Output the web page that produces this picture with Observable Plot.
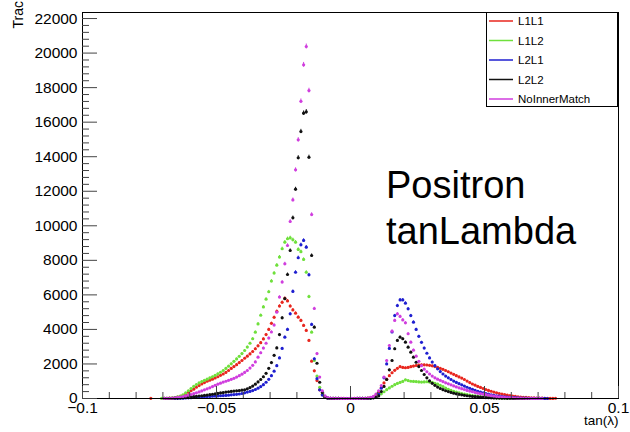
<!DOCTYPE html>
<html>
<head>
<meta charset="utf-8">
<script src="https://cdn.jsdelivr.net/npm/d3@7"></script>
<script src="https://cdn.jsdelivr.net/npm/@observablehq/plot@0.6"></script>
<style>
  body { margin: 0; background: #fff; }
  svg { font-family: "Liberation Sans", Arial, Helvetica, sans-serif; }
</style>
</head>
<body>
<div id="chart"></div>
<script>
// ---- Data ----
const seriesNames = ["L1L1", "L1L2", "L2L1", "L2L2", "NoInnerMatch"];
const seriesColors = ["#e8261e", "#6fe03c", "#1f1fd0", "#111111", "#d03ede"];

// histogram bins: first bin centre and bin width (tan(lambda))
const binStart = -0.0755;
const binWidth = 0.001;

const L1L1 = [
  0,10,0,0,0,0,5,10,20,30,50,80,120,180,250,360,450,540,650,750,840,920,1000,1060,1120,1190,1260,1340,1420,1510,1620,1740,1850,1960,2080,2200,
  2330,2450,2580,2720,2880,3050,3230,3450,3700,4000,4350,4700,5050,5350,5570,5800,5650,5350,5130,4940,4710,4520,4230,3940,3360,2160,1600,1040,500,220,70,
  25,12,6,4,3,2,2,1,1,1,2,3,4,6,10,18,35,70,
  170,380,640,900,1120,1320,1490,1630,1750,1840,1800,1780,1800,1840,1880,1910,1940,1950,1950,1940,1920,1890,1850,1800,1750,1690,1620,1550,1470,1400,1320,
  1250,1180,1100,1010,920,840,770,700,640,580,520,470,420,370,330,290,255,225,195,165,140,120,100,85,72,60,50,42,35,28,22,17,13,9,6,4,15,0
];
const L1L2 = [
  0,0,0,0,0,3,5,10,20,35,55,90,140,210,320,450,580,700,810,900,980,1050,1120,1190,1260,1340,1430,1520,1620,1740,1870,2010,2150,2290,2440,2600,
  2780,2980,3200,3460,3840,4320,4820,5300,5750,6180,6800,7260,7720,8190,8670,9050,9250,9300,9190,9050,8630,8500,8050,7310,5900,3840,2200,1300,650,250,80,
  30,12,6,3,2,1,1,1,1,1,1,2,3,4,6,12,25,50,
  80,170,270,390,510,610,710,800,870,930,990,1080,1040,1000,990,980,960,950,960,970,950,930,880,830,760,690,600,530,470,420,370,
  330,290,255,225,195,170,150,130,110,95,80,68,58,48,40,33,27,22,18,14,11,9,7,5,4,3,2,2,1,1,0,5,0,0,0,0,0,0
];
const L2L1 = [
  0,0,0,0,0,0,0,0,0,0,5,10,15,20,30,40,50,60,70,80,90,100,110,120,130,140,150,160,170,180,195,210,225,240,260,290,
  330,370,410,460,520,600,690,800,940,1110,1320,1580,1900,2350,2900,3550,4000,4900,6200,7310,8150,8900,9150,8760,7160,4290,2300,1150,500,200,70,
  25,10,5,3,2,1,1,1,1,1,1,2,3,5,8,15,25,45,
  80,250,600,1200,2000,2900,3850,4800,5380,5710,5710,5520,5190,4800,4420,4000,3600,3250,2920,2620,2350,2110,1900,1720,1560,1420,1300,1200,1100,1010,930,
  860,790,720,650,590,530,470,420,370,325,285,250,215,185,160,135,115,95,80,65,55,45,36,28,22,18,14,11,8,6,10,4,2,1,0,0,0,0
];
const L2L2 = [
  0,0,0,0,0,0,3,5,8,12,18,25,35,45,60,75,90,105,120,140,160,180,200,220,245,270,295,320,345,370,390,410,430,445,460,480,
  500,560,630,720,830,960,1100,1260,1460,1750,2080,2500,2930,3700,4670,5780,7180,8570,10460,12120,13940,15460,16520,16600,13970,8280,4130,2040,940,350,100,
  30,12,6,3,2,1,1,1,1,1,1,2,3,5,8,15,25,40,
  60,150,400,700,1100,1660,2200,2880,3360,3550,3460,3260,2970,2680,2390,2100,1850,1620,1390,1200,1020,880,760,660,580,510,450,400,350,310,270,
  240,210,185,160,140,120,105,90,78,66,56,47,40,33,27,22,18,14,11,9,7,5,4,3,2,1,1,0,0,0,0,0,0,0,0,0,0,0
];
const NoInnerMatch = [
  0,0,0,0,0,0,3,8,15,25,40,60,85,115,150,190,230,280,330,380,440,500,560,620,690,760,830,890,950,1000,1050,1110,1170,1240,1320,1410,
  1510,1620,1760,1920,2120,2390,2650,2920,3200,3500,3850,4250,5000,5870,6740,7800,8860,10250,11500,13240,14980,17210,19320,20380,17830,10650,5210,2600,1240,450,150,
  50,25,15,10,8,6,5,5,5,5,5,6,8,10,15,30,60,120,
  250,450,750,1240,2200,3070,3900,4520,4900,4750,4550,4380,3750,3260,2800,2450,2150,1900,1700,1550,1420,1300,1200,1120,1050,980,910,850,790,730,670,
  620,570,520,470,430,390,350,310,280,250,220,190,165,140,120,100,85,70,58,47,38,30,24,19,15,11,8,6,4,3,2,1,0,0,0,0,0,0
];
const seriesValues = [L1L1, L1L2, L2L1, L2L2, NoInnerMatch];

// axis ticks and labels
const yTickValues = [0,2000,4000,6000,8000,10000,12000,14000,16000,18000,20000,22000];
const yMinorTickValues = d3.range(0, 22400, 400).filter(d => d % 2000 !== 0);
const xTickValues = [-0.1, -0.05, 0, 0.05, 0.1];
const xTickLabels = ["\u22120.1", "\u22120.05", "0", "0.05", "0.1"];
const xMinorTickValues = [-0.09,-0.08,-0.07,-0.06,-0.04,-0.03,-0.02,-0.01,0.01,0.02,0.03,0.04,0.06,0.07,0.08,0.09];
const xTitle = "tan(\u03bb)";
const yTitle = "Tracks";
const annotation = ["Positron", "tanLambda"];

// ---- build table ----
const rows = [];
seriesNames.forEach((name, s) => {
  seriesValues[s].forEach((v, i) => {
    if (v > 0) rows.push({series: name, x: +(binStart + i * binWidth).toFixed(4), v});
  });
});

const font = "Liberation Sans, Arial, Helvetica, sans-serif";
const chart = Plot.plot({
  width: 630,
  height: 432,
  marginLeft: 82,
  marginRight: 12,
  marginTop: 12,
  marginBottom: 34,
  x: {domain: [-0.1, 0.1]},
  y: {domain: [0, 22350]},
  color: {domain: seriesNames, range: seriesColors},
  style: {fontFamily: font, background: "white", overflow: "hidden"},
  marks: [
    Plot.ruleX(rows, {x: "x", y1: d => Math.max(0, d.v - Math.sqrt(d.v)), y2: d => d.v + Math.sqrt(d.v), stroke: "series", strokeWidth: 1}),
    Plot.dot(rows, {x: "x", y: "v", fill: "series", r: 1.6}),
    Plot.frame({stroke: "black", strokeWidth: 1}),
    Plot.axisY(yTickValues, {anchor: "left", tickSize: -15, tickFormat: () => "", label: null, stroke: "#444"}),
    Plot.axisY(yMinorTickValues, {anchor: "left", tickSize: -7, tickFormat: () => "", label: null, stroke: "#444"}),
    Plot.axisY(yTickValues, {anchor: "left", tickSize: 0, tickPadding: 5, tickFormat: d => String(d), label: null, fontSize: 15.5, fill: "#000"}),
    Plot.axisX(xTickValues, {anchor: "bottom", tickSize: -12, tickFormat: () => "", label: null, stroke: "#444"}),
    Plot.axisX(xMinorTickValues, {anchor: "bottom", tickSize: -6, tickFormat: () => "", label: null, stroke: "#444"}),
    Plot.axisX(xTickValues, {anchor: "bottom", tickSize: 0, tickPadding: 3, tickFormat: d => xTickLabels[xTickValues.indexOf(d)], label: null, fontSize: 15.5, fill: "#000"}),
    Plot.text([xTitle], {frameAnchor: "bottom-right", dy: 26, textAnchor: "end", fontSize: 13.5, fill: "#000"}),
    Plot.text([yTitle], {frameAnchor: "top-left", dx: -69, dy: 16, rotate: -90, textAnchor: "start", fontSize: 14, fill: "#000"})
  ]
});
document.getElementById("chart").appendChild(chart);

// ---- legend and annotation ----
const svg = d3.select(chart);
const lg = svg.append("g").attr("font-family", font).attr("text-anchor", "start");
lg.append("rect").attr("x", 486.5).attr("y", 12.5).attr("width", 131).attr("height", 94)
  .attr("fill", "white").attr("stroke", "black").attr("stroke-width", 1);
seriesNames.forEach((name, i) => {
  const y = 21 + i * 19.5;
  lg.append("line").attr("x1", 489).attr("x2", 513).attr("y1", y).attr("y2", y)
    .attr("stroke", seriesColors[i]).attr("stroke-width", 1.5);
  lg.append("text").attr("x", 518).attr("y", y).attr("dy", "0.35em")
    .attr("text-anchor", "start").attr("font-size", 11.5).attr("fill", "#000").text(name);
});
const ann = svg.append("g").attr("font-family", font).attr("font-size", 38)
  .attr("fill", "#000").attr("text-anchor", "start");
annotation.forEach((t, i) => {
  ann.append("text").attr("x", 386).attr("y", 198 + i * 46).attr("text-anchor", "start").text(t);
});
</script>
</body>
</html>
